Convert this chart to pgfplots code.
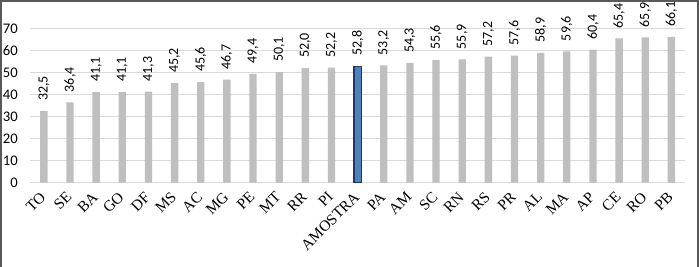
\documentclass[border=0pt]{standalone}
\usepackage{graphicx}
\usepackage{pgfplots}
\pgfplotsset{compat=1.18}
\usepackage{fontspec}
\setmainfont{Liberation Serif}
\newfontfamily\calibri{Carlito}
\definecolor{barg}{HTML}{BFBFBF}
\definecolor{barb}{HTML}{4F81BD}
\definecolor{barbd}{HTML}{1F3864}
\definecolor{gridc}{HTML}{D9D9D9}
\definecolor{framec}{HTML}{595959}
\begin{document}
\begin{tikzpicture}
\useasboundingbox (0,0) rectangle (524.25pt,200.25pt);
\fill[white] (0,0) rectangle (524.25pt,200.25pt);
\begin{axis}[
 at={(22.5pt,63.2pt)}, anchor=south west,
 scale only axis, width=491.25pt, height=115.8pt,
 xmin=-0.53, xmax=24.52, ymin=0, ymax=70,
 ytick={0,10,...,70},
 xtick={0,...,24},
 xticklabels={TO,SE,BA,GO,DF,MS,AC,MG,PE,MT,RR,PI,AMOSTRA,PA,AM,SC,RN,RS,PR,AL,MA,AP,CE,RO,PB},
 ymajorgrids, grid style={gridc, line width=0.75pt},
 axis line style={draw=none},
 major tick length=0pt,
 /pgf/number format/assume math mode=true,
 yticklabel style={font=\calibri\fontsize{11}{12}\selectfont, anchor=east, inner sep=0pt, xshift=-9pt, text=black},
 xticklabel style={font=\fontsize{11.5}{13}\selectfont, anchor=north east, inner sep=0pt, yshift=-6pt, xshift=-3.5pt, rotate=45, text=black},
 ybar, bar width=5.5pt, bar shift=0pt,
 nodes near coords={\rotatebox{90}{\pgfmathprintnumber[fixed, fixed zerofill, precision=1, use comma, assume math mode=true]{\pgfplotspointmeta}}},
 every node near coord/.append style={font=\calibri\fontsize{10.5}{12}\selectfont, text=black, anchor=south, inner ysep=7.5pt, inner xsep=0pt},
 clip=false,
]
\addplot[fill=barg, draw=none, bar shift=0pt] coordinates {
 (0,32.5) (1,36.4) (2,41.1) (3,41.1) (4,41.3) (5,45.2) (6,45.6) (7,46.7)
 (8,49.4) (9,50.1) (10,52.0) (11,52.2)
 (13,53.2) (14,54.3) (15,55.6) (16,55.9) (17,57.2) (18,57.6) (19,58.9)
 (20,59.6) (21,60.4) (22,65.4) (23,65.9) (24,66.1)};
\addplot[fill=barb, draw=barbd, line width=1.1pt, bar shift=0pt] coordinates {(12,52.8)};
\end{axis}
\draw[framec, line width=1.5pt] (0.75pt,0) -- (0.75pt,199.6pt) -- (523.5pt,199.6pt) -- (523.5pt,0);
\end{tikzpicture}
\end{document}
